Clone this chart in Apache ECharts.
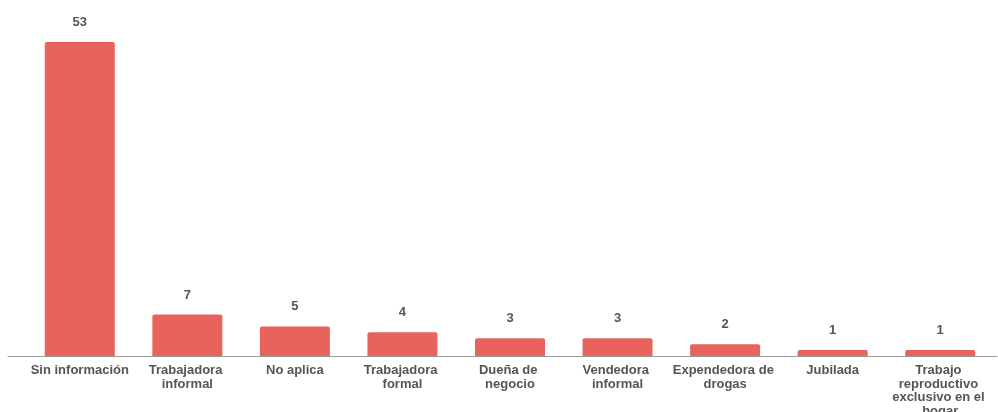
<!DOCTYPE html>
<html>
<head>
<meta charset="utf-8">
<script src="https://cdn.jsdelivr.net/npm/echarts@6/dist/echarts.min.js"></script>
<style>
html,body{margin:0;padding:0;background:#fff;}
#chart{width:998px;height:412px;}
</style>
</head>
<body>
<div id="chart"></div>
<script>
const categories = [
  "Sin información",
  "Trabajadora informal",
  "No aplica",
  "Trabajadora formal",
  "Dueña de negocio",
  "Vendedora informal",
  "Expendedora de drogas",
  "Jubilada",
  "Trabajo reproductivo exclusivo en el hogar"
];
const values = [53, 7, 5, 4, 3, 3, 2, 1, 1];

const chart = echarts.init(document.getElementById('chart'));
chart.setOption({
  animation: false,
  grid: [
    {left: 26, right: 4, top: 42, bottom: 56, containLabel: false, outerBoundsMode: 'none'},
    {left: 8, right: 1, top: 42, bottom: 56, containLabel: false, outerBoundsMode: 'none'}
  ],
  xAxis: [
    {
      type: 'category',
      data: categories,
      gridIndex: 0,
      axisLine: {lineStyle: {color: '#9a9a9a', width: 1}},
      axisTick: {show: false},
      axisLabel: {
        interval: 0,
        margin: 8,
        color: '#555',
        fontSize: 13,
        fontWeight: 'bold',
        fontFamily: '"Liberation Sans", Arial, sans-serif',
        lineHeight: 13.5,
        width: 106,
        overflow: 'break'
      }
    },
    {
      type: 'category',
      data: [''],
      gridIndex: 1,
      axisLine: {lineStyle: {color: '#9a9a9a', width: 1}},
      axisTick: {show: false},
      axisLabel: {show: false}
    }
  ],
  yAxis: [
    {type: 'value', min: 0, max: 53, show: false, gridIndex: 0},
    {type: 'value', min: 0, max: 1, show: false, gridIndex: 1}
  ],
  series: [{
    type: 'bar',
    data: values,
    barWidth: 70,
    itemStyle: {color: '#E8635B', borderRadius: [2, 2, 0, 0]},
    label: {
      show: true,
      position: 'top',
      distance: 13,
      color: '#555',
      fontSize: 13,
      fontWeight: 'bold',
      fontFamily: '"Liberation Sans", Arial, sans-serif'
    }
  }]
});
</script>
</body>
</html>
